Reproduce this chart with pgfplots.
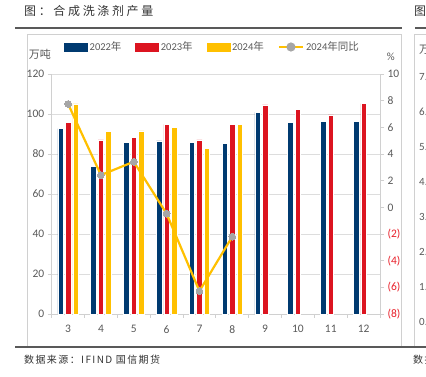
\documentclass[border=0pt]{standalone}
\usepackage{pgfplots}
\pgfplotsset{compat=1.18}
\usepackage{fontspec}
\setmainfont{Carlito}
\newfontfamily\cjk{Noto Sans CJK SC}
\newfontfamily\cjktitle[LetterSpace=22]{Noto Sans CJK SC}
\newfontfamily\cjksrc[LetterSpace=14]{Noto Sans CJK SC}
\definecolor{cblue}{HTML}{003A70}
\definecolor{cred}{HTML}{DC1420}
\definecolor{cyel}{HTML}{FFC000}
\definecolor{mgray}{HTML}{A6A6A6}
\definecolor{tgray}{HTML}{595959}
\definecolor{lgray}{HTML}{D0D0D0}
\definecolor{gridc}{HTML}{DDDDDD}
\definecolor{negred}{HTML}{E8202A}
\begin{document}
\begin{tikzpicture}[x=1pt,y=1pt]
\useasboundingbox (0,0) rectangle (426,377);
\clip (0,0) rectangle (426,377);
% frame and decorations
\node[anchor=west,inner sep=0pt,text=black!80] at (24,366) {\fontsize{12}{14}\cjktitle 图：合成洗涤剂产量};
\node[anchor=west,inner sep=0pt,text=black!80] at (414,366) {\fontsize{12}{14}\cjktitle 图};
\draw[black!65,line width=1.3pt] (15,349) -- (402,349);
\draw[black!65,line width=1.3pt] (415,349) -- (426,349);
\draw[lgray,line width=0.7pt] (27,30) -- (27,343) -- (401,343) -- (401,30);
\draw[lgray,line width=0.7pt] (414,30) -- (414,343) -- (426,343);
\draw[black!65,line width=1.3pt] (15,30) -- (426,30);
\node[anchor=west,inner sep=0pt,text=black!80] at (24,17) {\fontsize{10}{12}\cjksrc 数据来源：IFIND 国信期货};
\node[anchor=west,inner sep=0pt,text=black!80] at (413,17) {\fontsize{10}{12}\cjksrc 数据};
\node[anchor=west,inner sep=0pt,text=tgray] at (419,328) {\fontsize{11}{13}\cjk 万吨};
\foreach \v/\yy in {7/300.3,6/265.3,5/230.3,4/195.3,3/160.3,2/125.3,1/90.3,0/55.3}{
  \node[anchor=west,inner sep=0pt,text=tgray] at (419,\yy) {\fontsize{11}{13}\selectfont \v.0};
}
% left axis: bars
\begin{axis}[
  at={(51.7pt,63pt)}, anchor=south west,
  scale only axis, width=328.3pt, height=240pt,
  xmin=2.5, xmax=12.5, ymin=0, ymax=120,
  ybar=2pt, bar width=5.5pt,
  axis x line*=bottom, axis y line*=left,
  axis line style={draw=lgray, line width=0.8pt, -},
  xtick={3,...,12},
  major x tick style={draw=none},
  minor xtick={2.5,3.5,...,12.5},
  minor tick length=4pt,
  minor x tick style={draw=lgray, line width=0.8pt},
  ytick={0,20,...,120},
  tick align=outside, major tick length=4pt,
  major y tick style={draw=lgray, line width=0.8pt},
  ymajorgrids, grid style={draw=gridc, line width=0.8pt},
  tick label style={font=\fontsize{11.5}{13}\selectfont, text=tgray},
  /pgf/number format/assume math mode=true,
  xticklabel style={yshift=-4pt},
  clip=false,
]
\addplot[fill=cblue, draw=white, line width=0.4pt] coordinates {(3,92.7)(4,73.8)(5,85.8)(6,86.5)(7,85.8)(8,85.3)(9,100.8)(10,95.7)(11,96.2)(12,96.2)};
\addplot[fill=cred, draw=white, line width=0.4pt] coordinates {(3,95.8)(4,87.0)(5,88.2)(6,94.8)(7,87.0)(8,94.8)(9,104.5)(10,102.2)(11,99.5)(12,105.2)};
\addplot[fill=cyel, draw=white, line width=0.4pt] coordinates {(3,105.0)(4,91.2)(5,91.5)(6,93.2)(7,82.7)(8,94.7)};
\node[text=tgray, inner sep=0pt] at (rel axis cs:-0.036,1.083) {\fontsize{11}{13}\cjk 万吨};
\end{axis}
% right axis: line
\begin{axis}[
  at={(51.7pt,63pt)}, anchor=south west,
  scale only axis, width=328.3pt, height=240pt,
  xmin=2.5, xmax=12.5, ymin=-8, ymax=10,
  axis x line=none, axis y line*=right,
  axis line style={draw=lgray, line width=0.8pt, -},
  ytick={-8,-6,...,10},
  yticklabels={\textcolor{negred}{(8)},\textcolor{negred}{(6)},\textcolor{negred}{(4)},\textcolor{negred}{(2)},0,2,4,6,8,10},
  tick align=outside, major tick length=4pt,
  major y tick style={draw=lgray, line width=0.8pt},
  tick label style={font=\fontsize{11.5}{13}\selectfont, text=tgray},
  /pgf/number format/assume math mode=true,
  clip=false,
  legend columns=4,
  legend style={at={(0.49,1.1125)}, anchor=center, draw=none, fill=none,
    font=\fontsize{10.5}{13}\selectfont, text=tgray, inner sep=0pt,
    /tikz/every even column/.append style={column sep=12pt}},
  legend cell align=left,
]
\addlegendimage{legend image code/.code={\fill[cblue] (0pt,-4pt) rectangle (23pt,4pt);}}
\addlegendentry{2022{\cjk 年}}
\addlegendimage{legend image code/.code={\fill[cred] (0pt,-4pt) rectangle (23pt,4pt);}}
\addlegendentry{2023{\cjk 年}}
\addlegendimage{legend image code/.code={\fill[cyel] (0pt,-4pt) rectangle (23pt,4pt);}}
\addlegendentry{2024{\cjk 年}}
\addplot[color=cyel, line width=2.2pt, mark=*, mark size=3.4pt,
  mark options={fill=mgray, draw=mgray, line width=0pt},
  legend image code/.code={\draw[cyel,line width=2.2pt] (0pt,0pt) -- (24pt,0pt); \fill[mgray] (12pt,0pt) circle (3.4pt);}]
  coordinates {(3,7.75)(4,2.42)(5,3.42)(6,-0.48)(7,-6.28)(8,-2.2)};
\addlegendentry{2024{\cjk 年同比}}
\node[text=tgray, inner sep=0pt] at (rel axis cs:1.033,1.071) {\fontsize{11}{13}\selectfont \%};
\end{axis}
\end{tikzpicture}
\end{document}
